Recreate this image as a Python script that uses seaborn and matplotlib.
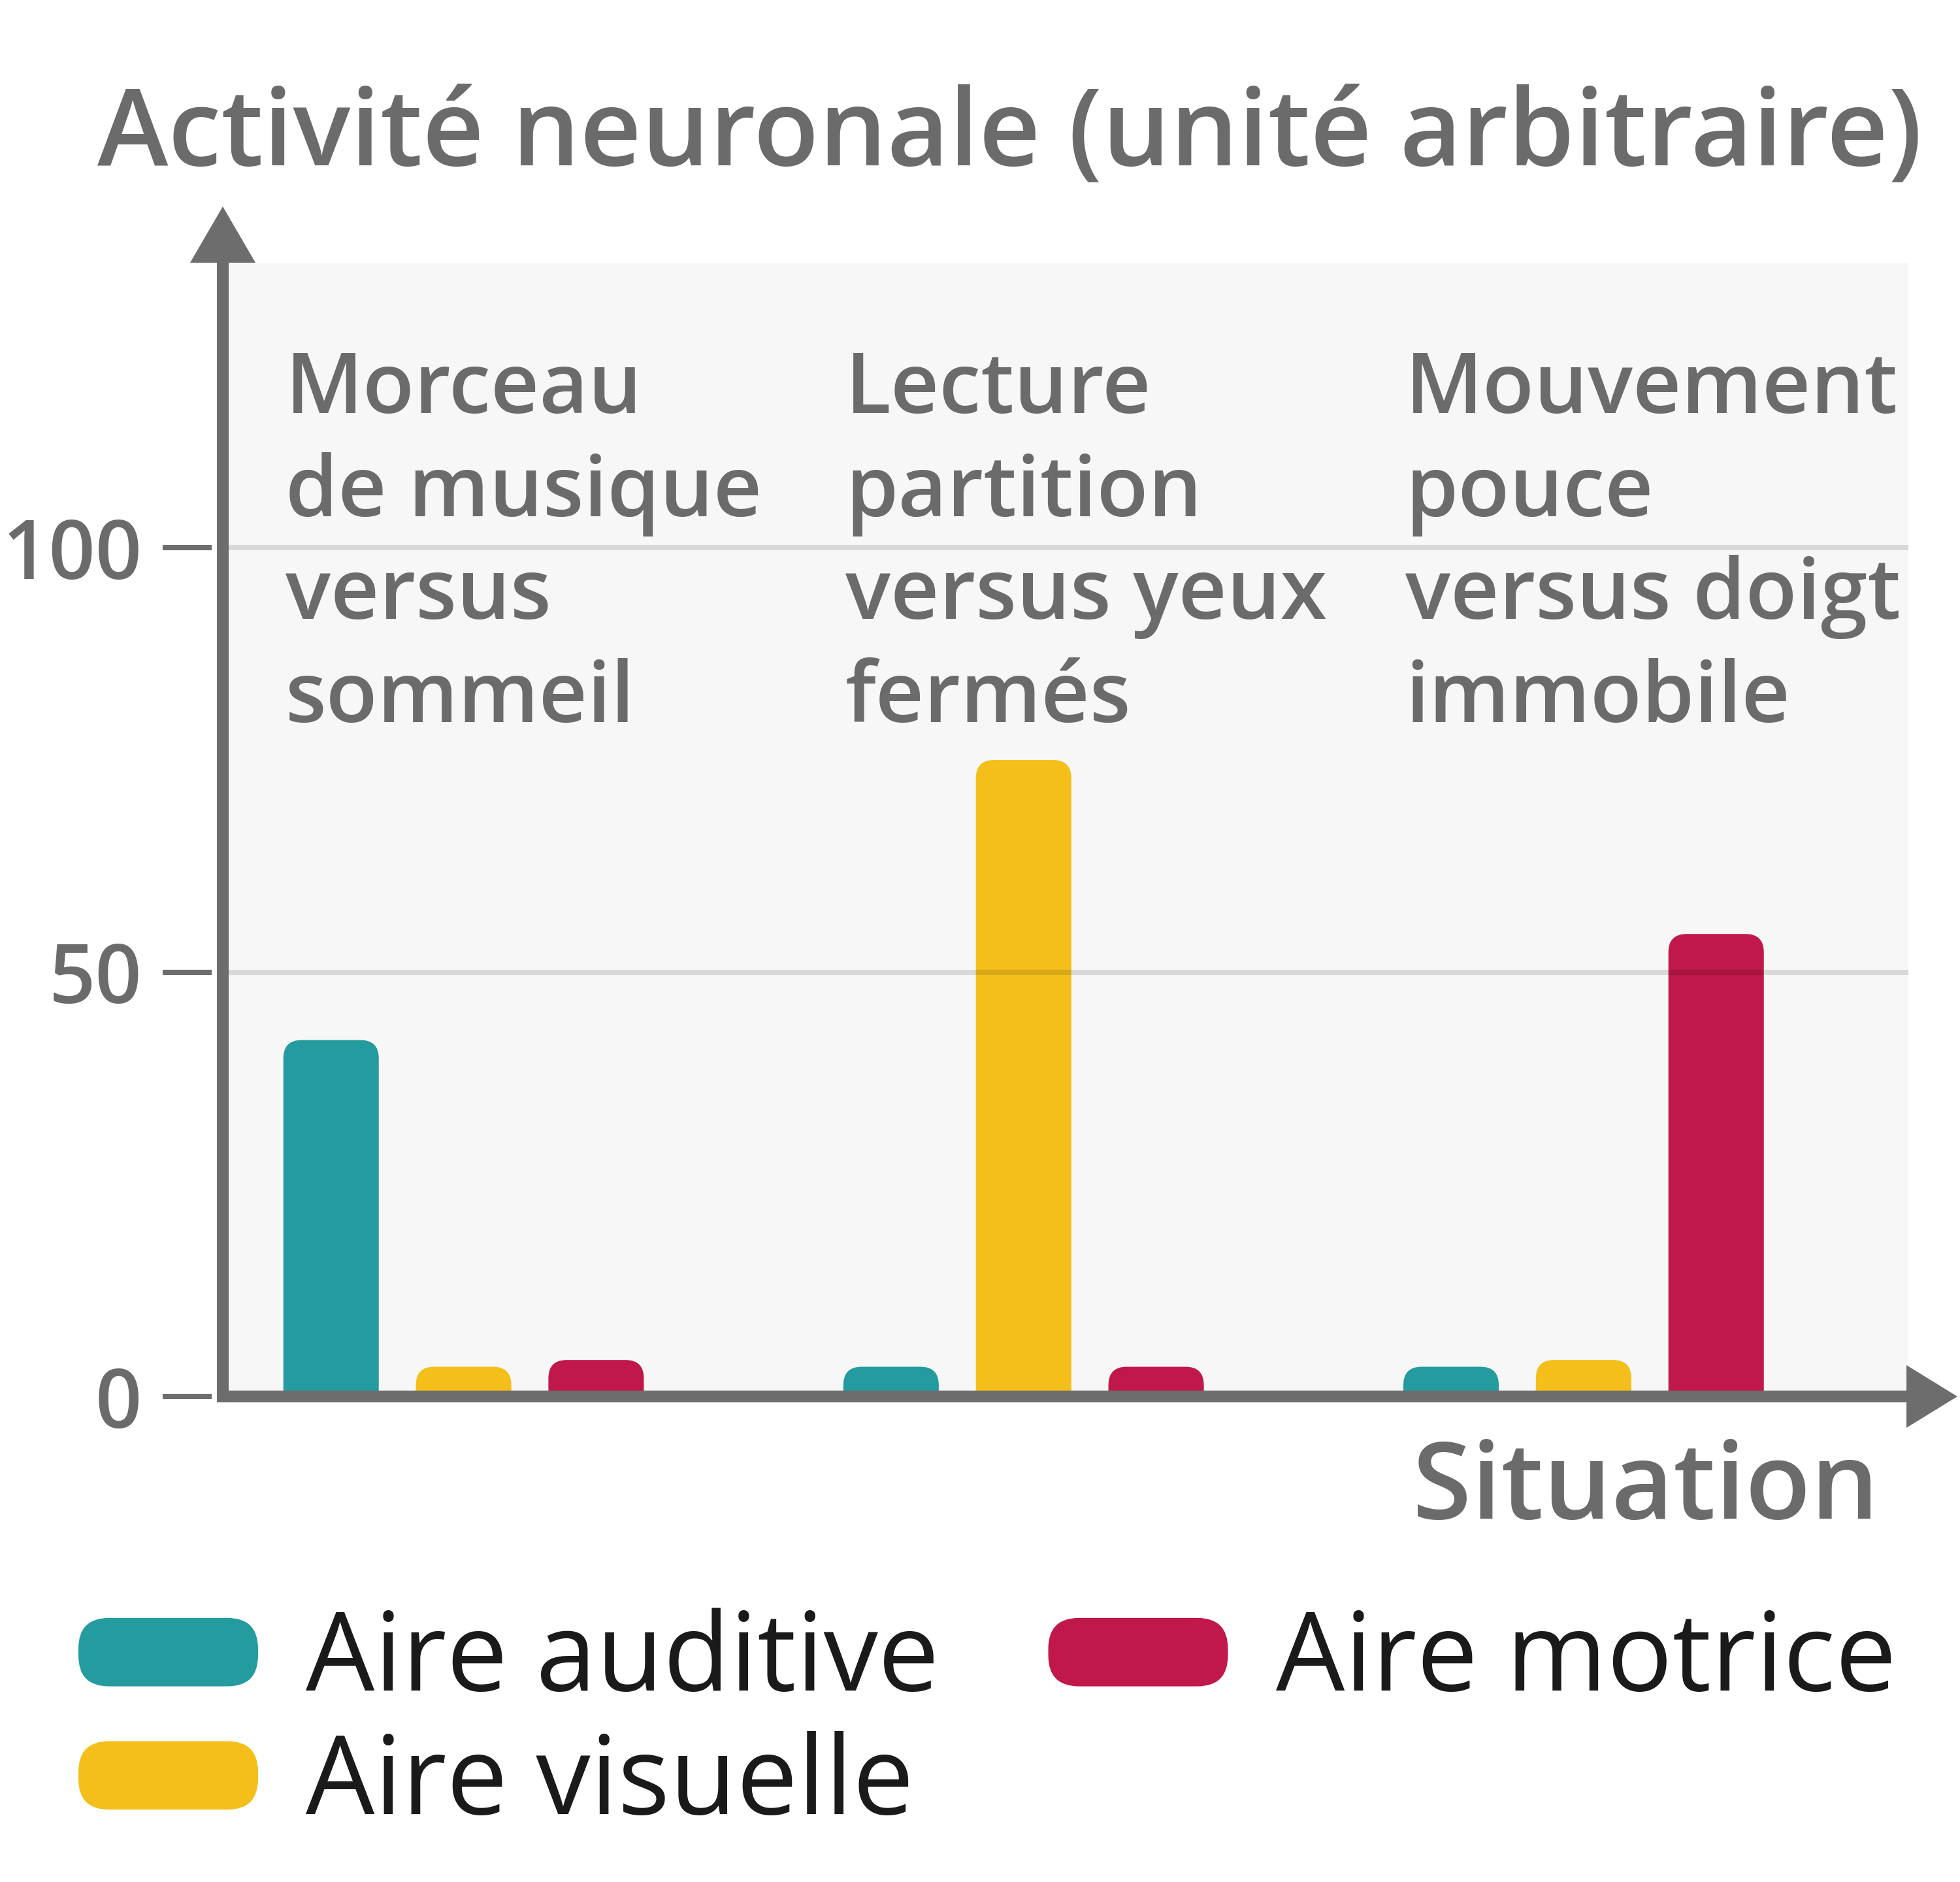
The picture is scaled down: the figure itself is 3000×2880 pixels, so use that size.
import numpy as np
import pandas as pd
import matplotlib
matplotlib.use("Agg")
import matplotlib.pyplot as plt
import seaborn as sns
from matplotlib.patches import FancyBboxPatch, Patch, Polygon
from matplotlib.legend_handler import HandlerPatch

# ---------------- data ----------------
situations = ["Morceau\nde musique\nversus\nsommeil",
              "Lecture\npartition\nversus yeux\nfermés",
              "Mouvement\npouce\nversus doigt\nimmobile"]
aires = ["Aire auditive", "Aire visuelle", "Aire motrice"]
aire_auditive = [42, 3.5, 3.5]
aire_visuelle = [3.5, 75, 4.3]
aire_motrice = [4.3, 3.5, 54.5]
yticks = [0, 50, 100]
colors = ["#249B9F", "#F4BF1A", "#C0184A"]
title = "Activité neuronale (unité arbitraire)"
xlabel = "Situation"

rows = []
for a, vals in zip(aires, [aire_auditive, aire_visuelle, aire_motrice]):
    for s, v in zip(situations, vals):
        rows.append({"situation": s, "aire": a, "valeur": v})
df = pd.DataFrame(rows)

# ---------------- style ----------------
sns.set_theme(style="white")
plt.rcParams["font.family"] = ["Open Sans", "DejaVu Sans"]
GRAY = "#6d6d6d"
TXT = "#6b6b6b"
WT = "semibold"

W, H = 3000, 2880
fig = plt.figure(figsize=(W / 100, H / 100), dpi=100)
ax_l, ax_r, ax_t, ax_b = 341, 2921, 402, 2137
ax = fig.add_axes([ax_l / W, (H - ax_b) / H, (ax_r - ax_l) / W, (ax_b - ax_t) / H])
ax.set_facecolor("#f7f7f7")

sns.barplot(data=df, x="situation", y="valeur", hue="aire", order=situations,
            hue_order=aires, palette=colors, width=0.71, gap=0.28, legend=False,
            saturation=1, linewidth=0, ax=ax, errorbar=None)

xlim = (-0.43, 2.58)
ylim = (0, 133.6)
ax.set_xlim(*xlim)
ax.set_ylim(*ylim)

px_x = (ax_r - ax_l) / (xlim[1] - xlim[0])
px_y = (ax_b - ax_t) / (ylim[1] - ylim[0])

# rounded tops for the bars drawn by seaborn
rects = list(ax.patches)
for r in rects:
    x, w, h = r.get_x(), r.get_width(), r.get_height()
    fc = r.get_facecolor()
    r.remove()
    rad = 28 / px_x
    p = FancyBboxPatch((x, -10), w, h + 10,
                       boxstyle=f"round,pad=0,rounding_size={rad}",
                       mutation_aspect=px_x / px_y,
                       facecolor=fc, edgecolor="none", zorder=1)
    ax.add_patch(p)
ax.set_xlim(*xlim)
ax.set_ylim(*ylim)

# grid
ax.set_yticks(yticks)
ax.set_axisbelow("line")
ax.yaxis.grid(True, color="black", alpha=0.12, linewidth=5.8)
ax.xaxis.grid(False)

# spines
for s in ["top", "right"]:
    ax.spines[s].set_visible(False)
for s in ["left", "bottom"]:
    ax.spines[s].set_color(GRAY)
    ax.spines[s].set_linewidth(13)
    ax.spines[s].set_zorder(5)

# arrow heads
aw = ax_r - ax_l
ah = ax_b - ax_t
ax.add_patch(Polygon([(-50 / aw, 1.0), (50 / aw, 1.0), (0, 1 + 86 / ah)],
                     closed=True, transform=ax.transAxes, clip_on=False,
                     facecolor=GRAY, edgecolor="none", zorder=6))
ax.add_patch(Polygon([(1.0 - 3 / aw, -48 / ah), (1.0 - 3 / aw, 48 / ah), (1 + 75 / aw, 0)],
                     closed=True, transform=ax.transAxes, clip_on=False,
                     facecolor=GRAY, edgecolor="none", zorder=6))

# ticks
ax.tick_params(axis="y", length=0, pad=89, labelsize=90, labelcolor=TXT)
for t in ax.get_yticklabels():
    t.set_fontweight(WT)
ax.tick_params(axis="x", length=0, labelbottom=False)
ax.hlines(yticks, -92 / aw, -17 / aw, transform=ax.get_yaxis_transform(),
          colors=GRAY, linewidth=5.8, clip_on=False)
ax.set_xlabel("")
ax.set_ylabel("")

# group labels
for i, s in enumerate(situations):
    ax.text(i - 0.318, 123.4, s, ha="left", va="top", fontsize=93,
            color=TXT, linespacing=1.29, fontweight=WT)

# title & axis label
fig.text(149 / W, 1 - 253 / H, title, ha="left", va="baseline",
         fontsize=118, color=TXT, fontweight=WT)
fig.text(2876 / W, 1 - 2324 / H, xlabel, ha="right", va="baseline",
         fontsize=118, color=TXT, fontweight=WT)


# legend
class PillHandler(HandlerPatch):
    def create_artists(self, legend, orig_handle, xdescent, ydescent,
                       width, height, fontsize, trans):
        r = height * 0.45
        p = FancyBboxPatch((-xdescent, -ydescent), width, height,
                           boxstyle=f"round,pad=0,rounding_size={r}",
                           facecolor=orig_handle.get_facecolor(),
                           edgecolor="none", transform=trans)
        return [p]


handles = [Patch(facecolor=c) for c in colors]
leg = fig.legend(handles, aires, ncol=2, loc="upper left",
                 bbox_to_anchor=(120 / W, 1 - 2460 / H), frameon=False,
                 fontsize=120, handlelength=1.65, handleheight=0.59,
                 handletextpad=0.44, columnspacing=1.0, labelspacing=0.13,
                 borderpad=0, borderaxespad=0,
                 handler_map={Patch: PillHandler()})
for t in leg.get_texts():
    t.set_color("#1a1a1a")
    t.set_fontweight("medium")

fig.savefig("out.png", dpi=100, facecolor="white")
